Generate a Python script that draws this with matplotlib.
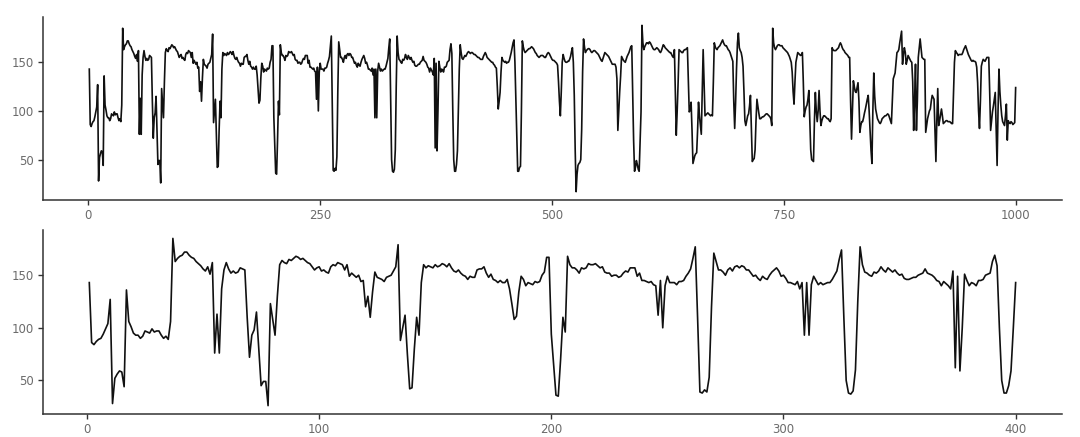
import matplotlib
matplotlib.use("Agg")
import matplotlib.pyplot as plt
import numpy as np

# Heart-rate-like series, values (index 1..1000)
hr_001_050 = [143, 86, 84, 87, 89, 90, 94, 99, 104, 127, 28, 52, 56, 59, 58, 44, 136, 106, 101, 95,
              93, 93, 90, 92, 97, 96, 95, 99, 96, 97, 97, 93, 90, 92, 89, 106, 185, 163, 166, 168,
              169, 172, 172, 169, 167, 166, 163, 161, 159, 156]
hr_051_100 = [154, 158, 151, 162, 76, 113, 76, 137, 155, 162, 156, 152, 154, 152, 153, 157, 156, 155, 110, 72,
              93, 98, 115, 80, 45, 49, 49, 26, 123, 108, 93, 130, 160, 164, 162, 161, 165, 164, 166, 168,
              167, 165, 166, 164, 162, 161, 158, 155, 157, 158]
hr_101_150 = [154, 155, 153, 152, 158, 160, 159, 162, 161, 160, 155, 160, 149, 152, 150, 148, 150, 144, 145, 120,
              130, 110, 134, 153, 148, 147, 146, 144, 148, 149, 150, 154, 158, 179, 88, 100, 112, 75, 42, 43,
              80, 110, 93, 143, 160, 157, 159, 158, 157, 160]
hr_151_200 = [158, 159, 161, 160, 158, 161, 157, 154, 153, 155, 152, 150, 149, 146, 149, 148, 148, 155, 156, 156,
              158, 152, 148, 151, 146, 145, 143, 145, 143, 143, 146, 137, 123, 108, 111, 134, 149, 146, 140, 143,
              142, 141, 144, 143, 144, 150, 153, 167, 167, 94]
hr_201_250 = [65, 36, 35, 70, 110, 96, 168, 160, 157, 157, 155, 152, 157, 156, 157, 161, 160, 160, 161, 159,
              157, 158, 153, 152, 152, 149, 150, 150, 148, 149, 152, 154, 153, 157, 157, 157, 149, 152, 145, 145,
              144, 143, 144, 141, 140, 112, 145, 100, 140, 149]
hr_251_300 = [143, 143, 143, 141, 144, 144, 145, 149, 152, 156, 166, 177, 110, 39, 38, 41, 39, 53, 120, 171,
              163, 155, 155, 153, 150, 155, 157, 154, 158, 159, 157, 159, 158, 155, 155, 152, 149, 150, 147, 145,
              149, 147, 146, 150, 153, 155, 157, 154, 149, 150]
hr_301_350 = [147, 143, 143, 142, 141, 144, 137, 143, 93, 143, 93, 141, 149, 145, 141, 143, 141, 142, 143, 143,
              146, 150, 154, 165, 174, 110, 50, 38, 37, 40, 60, 125, 177, 160, 153, 152, 150, 149, 153, 152,
              154, 158, 155, 153, 157, 155, 153, 155, 152, 150]
hr_351_400 = [151, 147, 146, 146, 147, 148, 148, 150, 151, 152, 156, 152, 151, 150, 148, 145, 144, 140, 144, 142,
              140, 137, 154, 62, 149, 59, 100, 151, 145, 140, 143, 142, 140, 145, 145, 146, 150, 151, 152, 163,
              169, 159, 100, 50, 38, 38, 45, 59, 100, 143]
hr_401_450 = [168, 160, 154, 153, 155, 157, 156, 158, 160, 161, 160, 159, 160, 160, 159, 158, 158, 157, 156, 155,
              155, 154, 153, 153, 153, 156, 158, 160, 158, 155, 154, 153, 152, 151, 150, 150, 148, 147, 145, 144,
              125, 102, 110, 119, 140, 155, 152, 151, 150, 151]
hr_451_500 = [149, 150, 150, 152, 156, 160, 165, 170, 173, 150, 112, 70, 38, 38, 42, 43, 100, 172, 166, 162,
              160, 161, 162, 163, 164, 164, 165, 166, 165, 164, 162, 160, 159, 157, 156, 155, 156, 157, 157, 157,
              156, 155, 155, 157, 159, 160, 159, 157, 155, 153]
hr_501_550 = [152, 152, 151, 150, 149, 147, 130, 110, 95, 120, 150, 158, 154, 151, 150, 150, 151, 151, 153, 156,
              161, 165, 150, 116, 60, 17, 35, 44, 46, 47, 50, 81, 140, 174, 166, 160, 162, 163, 164, 164,
              163, 161, 160, 161, 162, 162, 161, 160, 159, 158]
hr_551_600 = [156, 154, 152, 151, 154, 157, 160, 159, 158, 157, 156, 154, 152, 150, 148, 148, 148, 148, 145, 133,
              80, 100, 120, 136, 156, 154, 152, 151, 150, 153, 156, 158, 160, 163, 166, 167, 116, 70, 38, 42,
              49, 45, 40, 38, 70, 99, 188, 170, 163, 166]
hr_601_650 = [168, 170, 170, 169, 171, 170, 168, 166, 164, 163, 163, 164, 165, 164, 163, 161, 160, 162, 165, 168,
              167, 165, 164, 163, 162, 161, 160, 160, 158, 156, 155, 163, 120, 75, 100, 129, 163, 162, 161, 160,
              160, 162, 163, 163, 164, 165, 130, 99, 101, 109]
hr_651_700 = [80, 46, 50, 54, 56, 57, 80, 109, 95, 85, 76, 120, 163, 130, 95, 96, 97, 98, 97, 96,
              95, 96, 95, 130, 170, 166, 164, 163, 165, 166, 167, 169, 171, 173, 170, 168, 167, 167, 165, 163,
              162, 160, 157, 154, 151, 110, 82, 109, 144, 170]
hr_701_750 = [180, 165, 162, 160, 155, 146, 120, 90, 85, 90, 95, 97, 105, 116, 80, 48, 50, 51, 60, 90,
              112, 105, 98, 92, 92, 93, 94, 94, 95, 96, 97, 97, 96, 95, 94, 92, 85, 185, 170, 165,
              163, 165, 167, 168, 168, 167, 167, 167, 165, 164]
hr_751_800 = [163, 162, 161, 160, 158, 156, 153, 150, 140, 120, 107, 130, 150, 155, 160, 159, 158, 157, 158, 160,
              130, 94, 100, 104, 106, 112, 121, 90, 60, 50, 49, 48, 90, 119, 100, 89, 100, 121, 100, 85,
              90, 93, 95, 95, 94, 93, 92, 92, 90, 89]
hr_801_850 = [92, 165, 163, 162, 162, 162, 163, 164, 165, 168, 170, 168, 165, 163, 162, 160, 159, 158, 157, 155,
              155, 110, 71, 100, 131, 125, 120, 119, 124, 129, 110, 78, 85, 89, 89, 93, 98, 102, 107, 112,
              116, 100, 80, 60, 46, 100, 139, 115, 102, 97]
hr_851_900 = [92, 90, 88, 87, 89, 92, 93, 94, 95, 95, 96, 97, 96, 93, 90, 87, 110, 133, 136, 139,
              150, 160, 161, 163, 170, 176, 182, 148, 158, 165, 160, 148, 152, 157, 155, 153, 151, 150, 130, 80,
              110, 148, 80, 110, 155, 165, 174, 165, 155, 154]
hr_901_950 = [153, 153, 78, 85, 92, 96, 100, 102, 110, 116, 114, 112, 80, 48, 90, 123, 85, 90, 96, 102,
              95, 87, 88, 89, 90, 90, 89, 89, 89, 88, 87, 87, 120, 150, 162, 160, 159, 157, 158, 158,
              158, 158, 160, 163, 165, 167, 164, 161, 158, 156]
hr_951_1000 = [154, 152, 151, 152, 151, 151, 150, 145, 129, 100, 82, 110, 146, 150, 153, 152, 151, 153, 155, 155,
               155, 120, 80, 90, 99, 105, 112, 119, 80, 44, 100, 143, 120, 106, 95, 89, 87, 85, 95, 107,
               70, 90, 88, 87, 89, 88, 86, 87, 88, 124]

chunks = [hr_001_050, hr_051_100, hr_101_150, hr_151_200, hr_201_250, hr_251_300, hr_301_350,
          hr_351_400, hr_401_450, hr_451_500, hr_501_550, hr_551_600, hr_601_650, hr_651_700,
          hr_701_750, hr_751_800, hr_801_850, hr_851_900, hr_901_950, hr_951_1000]
assert all(len(c) == 50 for c in chunks), [len(c) for c in chunks]
hr = np.array(sum(chunks, []), dtype=float)
idx = np.arange(1, len(hr) + 1)

top_xticks = [0, 250, 500, 750, 1000]
bottom_xticks = [0, 100, 200, 300, 400]
yticks = [50, 100, 150]
n_zoom = 400

fig = plt.figure(figsize=(10.8, 4.37), dpi=100)
ax1 = fig.add_axes([0.0398, 0.5423, 0.9435, 0.4188])
ax2 = fig.add_axes([0.0398, 0.0526, 0.9435, 0.4210])

axis_col = "#333333"
label_col = "#6b6b6b"

def style(ax, xt):
    ax.spines["top"].set_visible(False)
    ax.spines["right"].set_visible(False)
    for s in ("left", "bottom"):
        ax.spines[s].set_color(axis_col)
        ax.spines[s].set_linewidth(1.1)
    ax.set_xticks(xt)
    ax.set_yticks(yticks)
    ax.tick_params(axis="both", direction="out", length=3.5, width=1.0,
                   color=axis_col, labelcolor=label_col, labelsize=8.5, pad=3)
    ax.margins(x=0.05, y=0.05)
    ax.set_facecolor("white")

ax1.plot(idx, hr, color="#111111", linewidth=1.2)
style(ax1, top_xticks)
ax2.plot(idx[:n_zoom], hr[:n_zoom], color="#111111", linewidth=1.2)
style(ax2, bottom_xticks)

fig.savefig("out.png", dpi=100, facecolor="white")
